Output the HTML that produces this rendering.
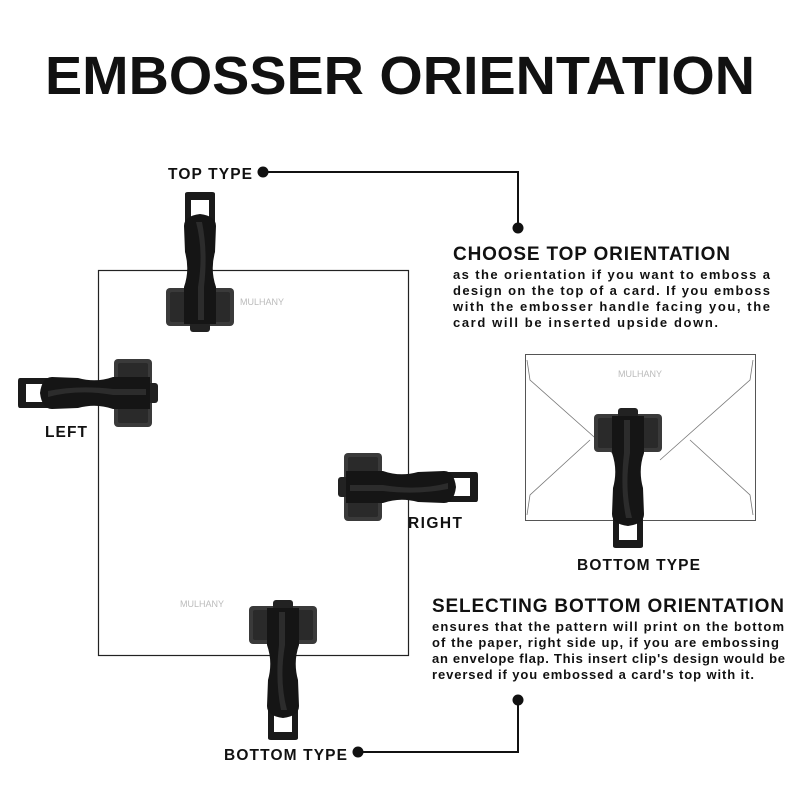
<!DOCTYPE html>
<html><head><style>
body{margin:0;background:#fff}
svg{display:block}
text{font-family:"Liberation Sans",sans-serif;fill:#111}
</style></head><body>
<svg width="800" height="800" viewBox="0 0 800 800">
<defs>
<g id="emb">
<rect x="-34" y="96" width="68" height="38" rx="4" fill="#3a3a3a"/>
<rect x="-30" y="100" width="60" height="30" rx="2" fill="#2a2a2a"/>
<rect x="-10" y="130" width="20" height="10" rx="3" fill="#222"/>
<path d="M-15 2 Q-15 0 -12 0 L12 0 Q15 0 15 2 L15 40 L-15 40 Z" fill="#1a1a1a"/>
<rect x="-9" y="8" width="18" height="22" fill="#fff"/>
<path d="M-16 34 Q-16 24 0 22 Q16 24 16 34 L15 60 Q10 78 16 95 L16 132 L-16 132 L-16 95 Q-10 78 -15 60 Z" fill="#151515"/>
<path d="M-4 30 Q4 60 -2 95 L-2 128 L4 128 L4 95 Q8 60 2 30 Z" fill="#2c2c2c"/>
</g>
</defs>
<text x="45" y="94" font-size="54" font-weight="bold" textLength="710" lengthAdjust="spacingAndGlyphs">EMBOSSER ORIENTATION</text>

<rect x="98.5" y="270.5" width="310" height="385" fill="#fff" stroke="#222" stroke-width="1.2"/>
<rect x="525.5" y="354.5" width="230" height="166" fill="#fff" stroke="#555" stroke-width="1"/>
<path d="M527 360 L530 380 L620 460 M753 360 L750 380 L660 460 M527 515 L530 495 L590 440 M753 515 L750 495 L690 440" fill="none" stroke="#777" stroke-width="0.8"/>

<g font-family="Liberation Serif" text-anchor="middle">
<text x="262" y="305" font-size="9" style="fill:#bbb">MULHANY</text>
<text x="202" y="607" font-size="9" style="fill:#bbb">MULHANY</text>
<text x="640" y="377" font-size="9" style="fill:#bbb">MULHANY</text>
</g>

<use href="#emb" transform="translate(200,192)"/>
<use href="#emb" transform="translate(283,740) rotate(180)"/>
<use href="#emb" transform="translate(18,393) rotate(-90)"/>
<use href="#emb" transform="translate(478,487) rotate(90)"/>
<use href="#emb" transform="translate(628,548) rotate(180)"/>

<g font-weight="bold" font-size="15.5" lengthAdjust="spacingAndGlyphs">
<text x="168" y="179" textLength="84">TOP TYPE</text>
<text x="45" y="437" textLength="42">LEFT</text>
<text x="408" y="528" textLength="54">RIGHT</text>
<text x="577" y="570" textLength="123">BOTTOM TYPE</text>
<text x="224" y="760" textLength="123">BOTTOM TYPE</text>
<text x="453" y="260" font-size="19" textLength="277">CHOOSE TOP ORIENTATION</text>
<text x="432" y="612" font-size="19" textLength="352">SELECTING BOTTOM ORIENTATION</text>
</g>
<g font-weight="bold" font-size="13">
<text x="453" y="279" textLength="317">as the orientation if you want to emboss a</text>
<text x="453" y="295" textLength="317">design on the top of a card. If you emboss</text>
<text x="453" y="311" textLength="317">with the embosser handle facing you, the</text>
<text x="453" y="327" textLength="265">card will be inserted upside down.</text>
<text x="432" y="631" textLength="352">ensures that the pattern will print on the bottom</text>
<text x="432" y="647" textLength="347">of the paper, right side up, if you are embossing</text>
<text x="432" y="663" textLength="353">an envelope flap. This insert clip's design would be</text>
<text x="432" y="679" textLength="322">reversed if you embossed a card's top with it.</text>
</g>
<g stroke="#111" stroke-width="2" fill="none">
<path d="M263 172 H518 V228"/>
<path d="M358 752 H518 V700"/>
</g>
<g fill="#111">
<circle cx="263" cy="172" r="5.5"/><circle cx="518" cy="228" r="5.5"/>
<circle cx="358" cy="752" r="5.5"/><circle cx="518" cy="700" r="5.5"/>
</g>
</svg>
</body></html>
